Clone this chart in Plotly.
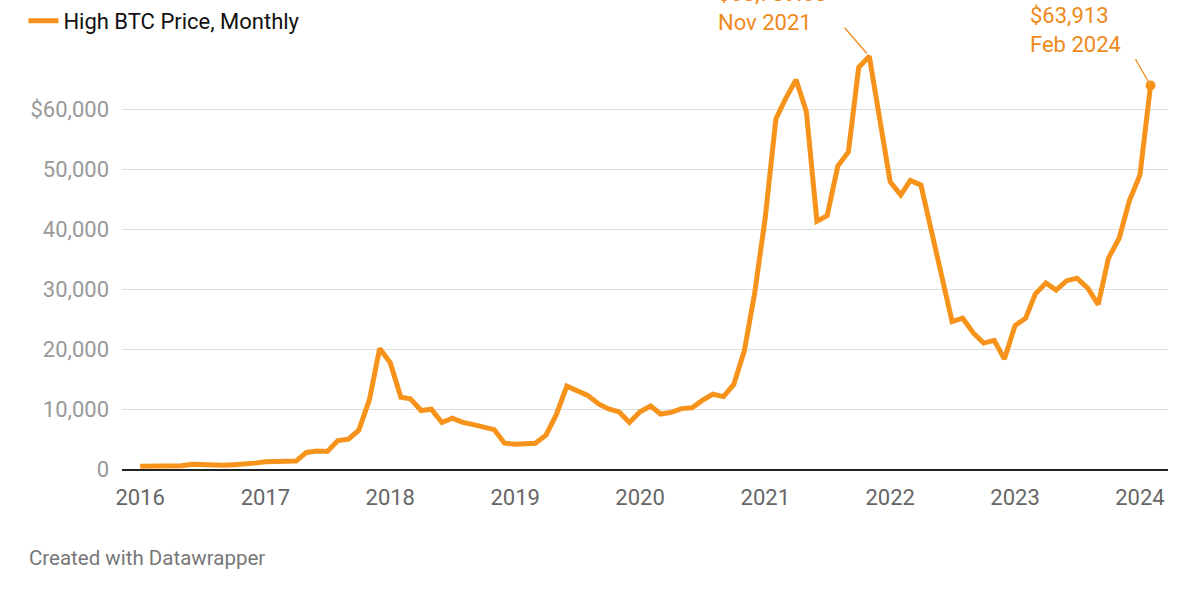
import plotly.graph_objects as go
import pandas as pd

# Monthly high BTC price, Jan 2016 .. Feb 2024
months = pd.date_range("2016-01-01", "2024-02-01", freq="MS")
high_2016 = [462, 448, 439, 467, 548, 778, 704, 626, 628, 720, 752, 979]
high_2017 = [1191, 1210, 1290, 1348, 2763, 2999, 2916, 4736, 4976, 6470, 11517, 20089]
high_2018 = [17712, 11958, 11710, 9745, 9964, 7754, 8474, 7760, 7388, 7018, 6552, 4309]
high_2019 = [4109, 4210, 4296, 5642, 9008, 13796, 13129, 12273, 10898, 10021, 9505, 7743]
high_2020 = [9553, 10500, 9167, 9440, 10067, 10199, 11435, 12468, 12067, 14094, 19749, 29300]
high_2021 = [41946, 58330, 61683, 64863, 59592, 41295, 42235, 50482, 52853, 66930, 68789.63, 59041]
high_2022 = [47881, 45661, 48086, 47313, 39902, 31957, 24572, 25135, 22673, 20988, 21446, 18318]
high_2023 = [23919, 25134, 29159, 30993, 29820, 31390, 31804, 30176, 27409, 35150, 38415, 44705]
high_2024 = [48969, 63913]
high = high_2016 + high_2017 + high_2018 + high_2019 + high_2020 + high_2021 + high_2022 + high_2023 + high_2024

y_tickvals = [0, 10000, 20000, 30000, 40000, 50000, 60000]
y_ticktext = ["0", "10,000", "20,000", "30,000", "40,000", "50,000", "$60,000"]
x_tickvals = [f"{y}-01-01" for y in range(2016, 2025)]
x_ticktext = [str(y) for y in range(2016, 2025)]

peak_label = "$68,789.63<br>Nov 2021"
last_label = "$63,913<br>Feb 2024"

ORANGE = "#F7931A"
TEXT_ORANGE = "#EE8A1C"
FONT = "Roboto"

fig = go.Figure()
fig.add_trace(go.Scatter(
    x=months, y=high, mode="lines", name="High BTC Price, Monthly",
    line=dict(color=ORANGE, width=5),
    hoverinfo="skip",
))
fig.add_trace(go.Scatter(
    x=[months[-1]], y=[high[-1]], mode="markers", showlegend=False,
    marker=dict(color=ORANGE, size=10), hoverinfo="skip",
))

peak_idx = high.index(max(high))

annotations = [
    # text labels
    dict(x=months[peak_idx], y=high[peak_idx], xref="x", yref="y", text=peak_label,
         showarrow=False, xanchor="left", yanchor="bottom", align="left",
         xshift=-153, yshift=19, font=dict(family=FONT, size=22, color=TEXT_ORANGE)),
    dict(x=months[-1], y=high[-1], xref="x", yref="y", text=last_label,
         showarrow=False, xanchor="left", yanchor="bottom", align="left",
         xshift=-123, yshift=27, font=dict(family=FONT, size=22, color=TEXT_ORANGE)),
    # connectors
    dict(x=months[peak_idx], y=high[peak_idx], xref="x", yref="y", text="",
         showarrow=True, arrowhead=0, arrowwidth=1.3, arrowcolor=TEXT_ORANGE,
         ax=-26, ay=-30, standoff=4),
    dict(x=months[-1], y=high[-1], xref="x", yref="y", text="",
         showarrow=True, arrowhead=0, arrowwidth=1.3, arrowcolor=TEXT_ORANGE,
         ax=-16, ay=-28, standoff=4),
    # credit
    dict(x=-95 / 1046, y=-89 / 420, xref="paper", yref="paper",
         text="Created with Datawrapper", showarrow=False,
         xanchor="left", yanchor="middle",
         font=dict(family=FONT, size=20.5, color="#777777")),
]

fig.update_layout(
    width=1200, height=600,
    margin=dict(l=122, r=32, t=49, b=131, autoexpand=False),
    paper_bgcolor="white", plot_bgcolor="white",
    font=dict(family=FONT, size=22, color="#333333"),
    showlegend=True,
    legend=dict(xref="container", yref="container", x=0.0195, y=1.005,
                xanchor="left", yanchor="top", bgcolor="rgba(0,0,0,0)",
                font=dict(family=FONT, size=22, color="#111111"),
                itemwidth=30, tracegroupgap=0),
    xaxis=dict(
        type="date", automargin=False,
        range=["2015-11-09", "2024-03-23"],
        tickvals=x_tickvals, ticktext=x_ticktext,
        showgrid=False, zeroline=False,
        showline=True, linecolor="#222222", linewidth=2,
        ticks="", ticklabelstandoff=8,
        tickfont=dict(family=FONT, size=22, color="#666666"),
    ),
    yaxis=dict(
        range=[0, 70000], automargin=False,
        tickvals=y_tickvals, ticktext=y_ticktext,
        showgrid=True, gridcolor="#dddddd", gridwidth=1,
        zeroline=False, showline=False, ticks="",
        ticklabelstandoff=12,
        tickfont=dict(family=FONT, size=22, color="#999999"),
    ),
    annotations=annotations,
)

fig.write_html("out.html")
